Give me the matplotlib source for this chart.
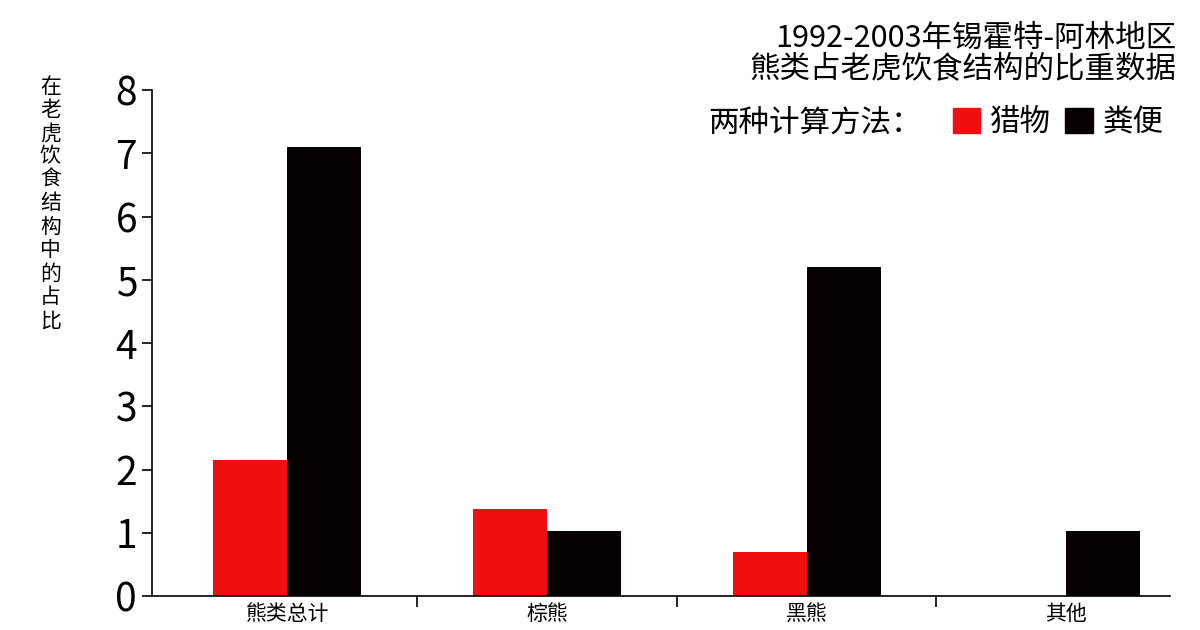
import matplotlib.pyplot as plt
import numpy as np
from matplotlib.patches import Patch

plt.rcParams['font.family'] = ['Noto Sans CJK SC', 'DejaVu Sans']

categorias = ["熊类总计", "棕熊", "黑熊", "其他"]
猎物 = [2.15, 1.37, 0.69, 0.0]
粪便 = [7.1, 1.02, 5.2, 1.02]
color_rojo = "#f00f0f"
color_negro = "#060000"

fig = plt.figure(figsize=(12, 6.3), dpi=100)
ax = fig.add_axes([0.127, 0.054, 0.848, 0.803])

x = np.arange(len(categorias))
ancho = 0.285
ax.bar(x - ancho / 2, 猎物, ancho, color=color_rojo)
ax.bar(x + ancho / 2, 粪便, ancho, color=color_negro)

ax.set_xlim(-0.52, 3.4)
ax.set_ylim(0, 8)
ax.set_yticks(range(0, 9))
ax.tick_params(axis='y', labelsize=28, length=7, width=1.2, pad=4)

# separadores entre grupos como ticks mayores, nombres en ticks menores
ax.set_xticks([0.5, 1.5, 2.5])
ax.set_xticklabels([])
ax.tick_params(axis='x', which='major', length=8, width=1.2)
ax.set_xticks(x, minor=True)
ax.set_xticklabels(categorias, minor=True, fontsize=15)
ax.tick_params(axis='x', which='minor', length=0, pad=5)

for lado in ["top", "right"]:
    ax.spines[lado].set_visible(False)
ax.spines["left"].set_linewidth(1.2)
ax.spines["bottom"].set_linewidth(1.2)

fig.text(0.042, 0.88, "\n".join("在老虎饮食结构中的占比"), fontsize=15,
         ha="center", va="top", linespacing=1.08)

fig.text(0.98, 0.915, "1992-2003年锡霍特-阿林地区\n熊类占老虎饮食结构的比重数据",
         fontsize=22, ha="right", va="center", linespacing=1.0)

handles = [Patch(color=color_rojo, label="猎物"), Patch(color=color_negro, label="粪便")]
fig.legend(handles=handles, ncol=2, loc="center right", bbox_to_anchor=(0.982, 0.805),
           frameon=False, fontsize=22, handlelength=0.9, handleheight=0.9,
           handletextpad=0.3, columnspacing=0.5, borderpad=0)
fig.text(0.768, 0.805, "两种计算方法：", fontsize=22, ha="right", va="center")

plt.savefig("out.png", dpi=100)
plt.close()
